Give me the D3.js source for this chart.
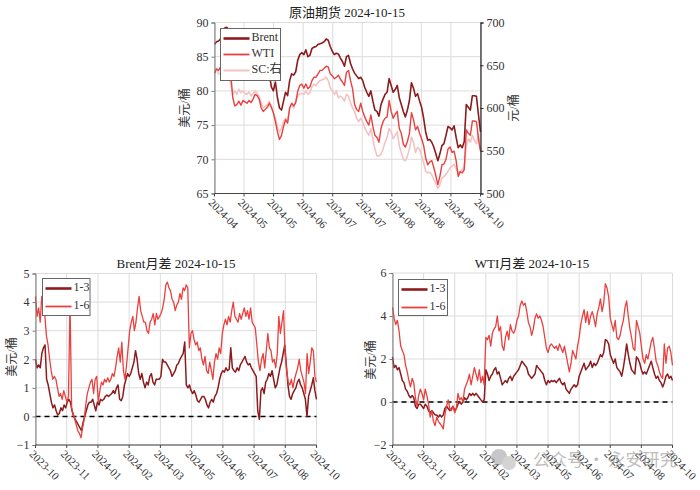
<!DOCTYPE html>
<html><head><meta charset="utf-8">
<script src="https://cdn.jsdelivr.net/npm/d3@7"></script>
<style>body{margin:0;background:#fff;}svg{display:block;}</style>
</head><body>
<script>
// ---------- DATA ----------
const topTitle = "原油期货 2024-10-15";
const topXTicks = ["2024-04","2024-05","2024-05","2024-06","2024-07","2024-07","2024-08","2024-08","2024-09","2024-10"];
const topSeriesNames = ["Brent","WTI","SC:右"];
const brent = [86.8,87.2,87.3,87.6,88.5,89.2,89.3,89.0,87.5,85.5,83.5,83.2,83.5,83.0,82.8,83.3,82.6,82.4,83.5,84.0,83.6,82.2,82.0,
 81.8,82.6,83.6,83.8,82.5,80.6,80.0,81.3,79.0,77.5,77.2,78.5,79.8,79.3,81.5,
 82.5,82.3,82.8,84.5,85.3,85.6,85.3,86.0,85.0,85.2,
 86.2,86.4,86.5,86.8,86.9,87.0,87.2,87.6,87.4,86.5,
 85.8,85.3,85.5,85.4,84.8,84.3,83.6,85.0,85.2,84.0,
 83.2,82.6,82.2,81.8,82.0,81.5,80.5,79.8,79.2,80.0,
 78.5,77.2,77.0,76.3,78.0,78.8,79.5,79.8,81.8,80.8,
 79.8,80.2,80.8,79.0,78.0,77.0,76.2,77.2,78.6,81.2,
 80.4,79.2,79.6,78.5,77.6,76.0,74.0,72.8,72.9,72.5,
 71.8,70.8,69.8,70.8,72.0,72.3,73.5,74.8,74.6,74.3,
 74.9,73.2,71.7,72.1,71.7,72.6,78.0,77.6,77.2,79.3,
 79.3,79.2,76.5,74.0];
const wti = [82.6,83.2,83.0,83.5,84.2,84.8,84.5,84.0,82.5,79.0,77.8,78.0,78.5,77.9,78.6,78.4,78.2,78.6,78.3,78.8,79.5,79.3,78.8,
 77.5,77.0,77.3,77.6,78.2,77.6,76.8,75.5,74.0,72.9,73.5,74.8,75.8,75.3,77.5,
 78.2,77.8,78.3,80.0,80.8,81.0,80.4,81.0,80.3,80.6,
 81.5,82.0,82.0,82.5,83.0,83.0,83.3,83.6,83.5,82.5,
 82.2,81.8,82.0,82.3,81.7,81.3,80.8,82.7,83.0,81.5,
 80.3,78.0,77.3,77.0,78.2,77.0,76.2,75.5,75.0,76.5,
 74.8,73.5,73.2,72.5,74.5,75.5,76.0,76.2,78.6,77.0,
 76.0,76.6,77.0,74.5,73.8,72.2,71.8,72.6,73.8,76.8,
 75.8,74.3,74.8,73.8,73.0,72.0,70.2,69.2,69.6,69.8,
 68.8,67.6,66.3,67.5,69.2,69.3,70.0,71.5,71.8,71.0,
 71.2,69.8,67.5,68.2,68.0,68.5,74.3,73.8,73.5,75.6,
 75.6,75.5,73.0,71.2];
const sc = [644,646,640,640,642,644,641,636,628,616,620,616,622,618,620,617,616,619,614,617,620,617,614,
 606,600,602,604,608,602,594,588,578,572,576,584,588,584,600,
 604,600,608,614,617,617,616,620,616,618,
 625,628,626,630,632,633,634,636,632,624,
 620,616,620,612,614,612,608,616,614,606,
 600,596,588,584,588,584,577,572,568,576,
 564,552,544,544,546,552,560,566,576,572,
 564,568,572,556,548,540,538,544,552,566,
 560,548,554,552,544,536,526,524,525,522,
 516,512,506,510,518,520,522,526,530,532,
 534,529,524,526,528,532,556,564,560,568,
 562,558,570,552];

const spreadXTicks = ["2023-10","2023-11","2024-01","2024-02","2024-03","2024-05","2024-06","2024-07","2024-08","2024-10"];
const spreadNames = ["1-3","1-6"];
const brentTitle = "Brent月差 2024-10-15";
const brent13 = [2.0,1.7,1.8,1.7,2.2,2.4,2.5,1.3,1.1,0.8,0.5,0.3,0.4,0.2,0.05,0.1,0.3,0.2,0.4,0.3,0.5,0.6,0.5,0.2,0.0,-0.1,-0.2,-0.3,-0.4,-0.5,-0.2,0.0,0.2,0.4,0.5,0.5,0.6,0.4,0.2,0.5,0.4,0.6,0.55,0.6,0.7,0.75,0.7,0.75,0.8,0.9,0.8,1.0,1.1,0.6,0.55,0.7,1.1,1.3,1.5,1.4,1.5,1.7,1.9,2.3,2.0,1.5,1.3,1.5,1.2,1.0,1.2,1.1,1.4,1.5,1.2,1.1,1.3,1.3,1.3,1.4,2.0,1.9,1.9,1.8,1.7,1.6,1.4,1.5,1.6,1.8,1.85,2.0,2.1,2.2,2.6,1.1,1.0,1.1,0.9,0.8,0.9,0.75,0.55,0.5,0.6,0.7,0.7,0.6,0.4,0.3,0.5,0.6,0.5,0.7,0.8,1.0,1.3,1.5,1.6,1.55,1.7,1.6,1.65,2.4,1.7,1.6,1.55,1.7,1.6,1.8,1.9,2.0,2.1,1.9,1.8,1.85,1.7,1.6,1.5,1.4,0.2,-0.1,0.9,1.0,0.8,1.2,1.3,1.5,1.4,1.6,1.3,1.0,1.1,1.4,1.7,1.9,2.2,2.5,1.8,1.1,0.7,0.6,0.8,0.9,1.0,1.2,1.3,1.1,1.0,0.8,0.6,0.0,0.7,0.9,1.1,1.35,0.9,0.6];
const brent16 = [4.2,3.5,3.8,3.3,4.2,4.0,3.5,2.8,2.5,2.0,1.6,1.3,1.4,1.3,1.0,0.7,0.8,0.6,0.9,0.7,0.5,0.7,4.0,0.3,0.1,-0.1,-0.3,-0.5,-0.6,-0.75,-0.4,-0.1,0.4,0.8,1.0,1.2,1.3,0.8,1.3,1.4,0.5,0.9,1.2,1.1,1.3,1.2,1.35,1.2,1.3,1.5,1.4,1.7,2.1,2.4,1.9,2.6,1.6,1.3,1.8,2.4,3.0,3.3,3.5,3.0,3.3,3.8,4.2,3.7,3.5,3.3,3.3,3.0,2.9,3.3,3.4,3.6,3.2,3.6,3.4,3.5,3.6,3.8,4.1,4.6,4.7,4.5,4.4,4.1,4.0,3.7,3.9,4.0,4.3,4.1,4.5,4.4,4.6,4.5,2.4,2.9,3.0,2.7,2.5,2.6,2.3,2.4,2.0,1.8,2.1,1.6,1.5,1.9,1.6,1.3,1.9,2.2,2.0,2.4,2.2,2.9,3.2,3.4,3.2,3.5,3.3,3.7,4.0,3.5,3.4,3.3,3.6,3.4,3.6,3.8,3.5,3.7,3.4,3.8,3.3,3.2,3.1,2.5,1.9,1.6,2.0,2.2,1.7,2.3,2.9,2.4,2.3,1.9,2.0,1.7,2.2,3.5,2.9,3.3,3.7,2.2,1.6,1.2,1.1,1.3,1.0,1.3,1.5,1.7,2.0,1.6,1.4,1.2,0.8,2.2,1.5,1.9,2.4,2.3,1.4,1.2];
const wtiTitle = "WTI月差 2024-10-15";
const wti13 = [2.1,1.6,1.7,1.5,1.6,1.3,1.0,0.9,0.6,0.5,0.3,0.2,0.3,0.2,-0.2,-0.3,-0.1,-0.1,-0.2,-0.3,-0.1,-0.2,-0.4,-0.5,-0.4,-0.5,-0.6,-0.6,-0.7,-0.6,-0.7,-0.6,-0.3,-0.2,-0.3,-0.4,-0.3,-0.2,-0.4,-0.3,-0.1,0.0,-0.1,0.0,0.2,0.1,0.2,0.4,0.3,0.4,0.3,0.4,0.3,0.2,0.1,0.0,0.1,1.5,1.3,1.0,1.2,1.3,1.5,1.6,1.3,1.4,1.1,0.8,0.9,1.0,0.9,1.1,1.2,1.0,1.2,1.3,1.4,1.5,1.7,1.9,1.8,1.7,1.6,1.3,1.2,1.1,1.2,1.3,1.7,1.6,1.5,1.4,1.3,1.0,0.8,1.0,0.9,1.0,0.95,1.0,0.9,1.0,1.1,0.9,0.8,0.9,0.6,0.5,0.4,0.6,0.7,0.8,0.7,0.8,1.2,1.4,1.6,1.8,1.5,1.6,1.7,1.9,1.6,1.8,1.7,1.8,2.0,2.2,2.1,2.3,2.9,2.85,2.7,2.2,2.0,1.8,2.0,1.6,1.5,1.4,1.2,1.6,2.1,2.7,2.2,1.8,1.5,1.4,1.3,2.1,2.0,1.8,1.5,1.3,1.4,1.3,1.5,1.7,1.9,1.6,1.3,1.1,1.2,1.0,0.9,0.7,0.9,1.2,1.3,1.1,1.2,1.0];
const wti16 = [4.4,3.9,3.6,3.8,3.3,2.6,2.4,2.2,1.7,1.4,1.0,0.7,1.1,0.9,0.2,-0.2,0.3,0.6,0.4,0.1,0.6,0.3,-0.1,-0.7,-0.4,-0.9,-1.1,-0.7,-0.9,-1.0,-1.1,-1.25,-0.6,-0.2,0.1,-0.3,-0.4,-0.2,-0.5,-0.3,0.4,0.1,0.2,0.0,0.6,0.8,1.0,1.3,0.8,1.2,1.6,1.3,1.0,1.5,0.9,1.2,0.8,3.0,2.9,3.1,2.6,3.2,3.4,3.5,4.0,3.3,3.5,2.6,2.4,3.0,3.3,2.9,3.6,3.3,3.2,3.4,3.8,4.0,4.5,4.7,4.5,4.6,4.2,3.7,3.5,3.1,3.4,3.9,4.1,3.9,4.0,3.8,3.5,3.0,2.5,2.3,2.6,2.7,2.6,2.5,2.6,2.4,2.7,2.5,2.3,2.6,2.2,1.8,1.4,1.8,2.4,2.2,2.0,2.6,3.0,3.6,4.0,4.3,3.7,4.2,3.6,4.0,4.2,3.9,3.5,4.1,4.4,4.8,4.2,4.6,5.5,5.3,4.9,3.9,3.6,3.3,3.8,3.0,2.9,3.1,3.5,3.8,4.4,4.7,4.0,3.4,3.0,2.5,2.4,3.8,3.5,3.2,2.6,2.0,1.8,2.2,2.0,2.4,2.8,3.0,2.5,1.9,1.7,1.4,1.2,1.1,2.7,1.8,2.5,2.6,2.3,1.7];
const watermark = "公众号 · 永安研究";

// ---------- STYLE ----------
const FONT = "'Liberation Serif','Noto Sans CJK SC',serif";
const DARK = "#8c1b1d", RED = "#e8413f", PALE = "#f3c3c3", GRID = "#dcdcdc";

const svg = d3.select("body").append("svg").attr("width",700).attr("height",490)
  .style("font-family",FONT);

function drawPanel(o){
  const g = svg.append("g");
  const y = d3.scaleLinear().domain(o.yDomain).range([o.b,o.t]);
  const xt = d3.scalePoint().domain(d3.range(o.xTicks.length)).range([o.l,o.r]);
  g.selectAll(".hg").data(o.yTicks).join("line")
    .attr("x1",o.l).attr("x2",o.r).attr("y1",d=>y(d)).attr("y2",d=>y(d))
    .attr("stroke",GRID).attr("stroke-width",1);
  g.selectAll(".vg").data(d3.range(o.xTicks.length)).join("line")
    .attr("x1",d=>xt(d)).attr("x2",d=>xt(d)).attr("y1",o.t).attr("y2",o.b)
    .attr("stroke",GRID).attr("stroke-width",1);
  if(o.zero){
    g.append("line").attr("x1",o.l).attr("x2",o.r).attr("y1",y(0)).attr("y2",y(0))
      .attr("stroke","#000").attr("stroke-width",1.5).attr("stroke-dasharray","5,4");
  }
  o.draw.forEach(s=>{
    const ys = s.axis2 ? d3.scaleLinear().domain(o.y2Domain).range([o.b,o.t]) : y;
    const x = d3.scaleLinear().domain([0,s.values.length-1]).range([o.l,o.r]);
    g.append("path").datum(s.values)
      .attr("d",d3.line().x((d,i)=>x(i)).y(d=>ys(d)))
      .attr("fill","none").attr("stroke",s.color).attr("stroke-width",s.width)
      .attr("stroke-linejoin","round");
  });
  const ya = d3.axisLeft(y).tickValues(o.yTicks).tickSize(3).tickPadding(3).tickFormat(d3.format("d"));
  const ga = g.append("g").attr("transform",`translate(${o.l},0)`).call(ya);
  ga.select(".domain").attr("stroke","#777");
  ga.selectAll(".tick line").attr("stroke","#777");
  ga.selectAll("text").attr("font-size",12).attr("fill","#333").attr("font-family",FONT);
  if(o.y2Domain){
    const y2 = d3.scaleLinear().domain(o.y2Domain).range([o.b,o.t]);
    const ra = d3.axisRight(y2).tickValues(o.y2Ticks).tickSize(3).tickPadding(3).tickFormat(d3.format("d"));
    const gr = g.append("g").attr("transform",`translate(${o.r},0)`).call(ra);
    gr.select(".domain").attr("stroke","#222").attr("stroke-width",1.2);
    gr.selectAll(".tick line").attr("stroke","#222");
    gr.selectAll("text").attr("font-size",12).attr("fill","#333").attr("font-family",FONT);
    g.append("text").text(o.y2Label).attr("transform",`translate(${o.r+37},${(o.t+o.b)/2}) rotate(-90)`)
      .attr("text-anchor","middle").attr("font-size",12).attr("fill","#333");
  }
  g.append("line").attr("x1",o.l).attr("x2",o.r).attr("y1",o.b).attr("y2",o.b)
    .attr("stroke","#444").attr("stroke-width",1.2);
  g.selectAll(".xt").data(d3.range(o.xTicks.length)).join("line")
    .attr("x1",d=>xt(d)).attr("x2",d=>xt(d)).attr("y1",o.b).attr("y2",o.b+3).attr("stroke","#444");
  g.selectAll(".xl").data(o.xTicks).join("text")
    .text(d=>d)
    .attr("transform",(d,i)=>`translate(${xt(i)-5},${o.b+8}) rotate(45)`)
    .attr("text-anchor","start").attr("dominant-baseline","middle")
    .attr("font-size",11).attr("fill","#333");
  g.append("text").text(o.yLabel).attr("transform",`translate(${o.yLabelX},${o.yLabelY||(o.t+o.b)/2}) rotate(-90)`)
    .attr("text-anchor","middle").attr("dominant-baseline","middle").attr("font-size",12).attr("fill","#333");
  g.append("text").text(o.title).attr("x",o.titleX).attr("y",o.titleY)
    .attr("text-anchor","middle").attr("font-size",13).attr("fill","#222");
  const L = o.legend;
  g.append("rect").attr("x",L.x).attr("y",L.y).attr("width",L.w).attr("height",L.h)
    .attr("fill","#fff").attr("stroke","#666").attr("stroke-width",1);
  o.legendItems.forEach((s,i)=>{
    const yy = L.y + L.first + i*L.step;
    g.append("line").attr("x1",L.x+3).attr("x2",L.x+3+L.len).attr("y1",yy).attr("y2",yy)
      .attr("stroke",s.color).attr("stroke-width",s.legendWidth);
    g.append("text").text(s.name).attr("x",L.x+5+L.len).attr("y",yy)
      .attr("dominant-baseline","middle").attr("font-size",12).attr("fill","#333");
  });
}

// top panel
const sBrent = {name:topSeriesNames[0],values:brent,color:DARK,width:1.6,legendWidth:2.6};
const sWti = {name:topSeriesNames[1],values:wti,color:RED,width:1.4,legendWidth:1.8};
const sSc = {name:topSeriesNames[2],values:sc,color:PALE,width:1.6,legendWidth:2,axis2:true};
drawPanel({
  l:214.5,r:480.5,t:22.5,b:193.5,
  yDomain:[65,90], yTicks:[65,70,75,80,85,90],
  y2Domain:[500,700], y2Ticks:[500,550,600,650,700], y2Label:"元/桶",
  xTicks:topXTicks, yLabel:"美元/桶", yLabelX:186, title:topTitle, titleX:347, titleY:17,
  draw:[sSc,sWti,sBrent], legendItems:[sBrent,sWti,sSc],
  legend:{x:220.5,y:28.5,w:60,h:52,first:10,step:16,len:26}
});

// Brent spreads
const b13 = {name:spreadNames[0],values:brent13,color:DARK,width:1.5,legendWidth:2.6};
const b16 = {name:spreadNames[1],values:brent16,color:RED,width:1.3,legendWidth:1.8};
drawPanel({
  l:35.5,r:316.5,t:273.5,b:445,
  yDomain:[-1,5], yTicks:[-1,0,1,2,3,4,5], zero:true,
  xTicks:spreadXTicks, yLabel:"美元/桶", yLabelX:13, yLabelY:357, title:brentTitle, titleX:176, titleY:268,
  draw:[b13,b16], legendItems:[b13,b16],
  legend:{x:42.5,y:278.5,w:47.5,h:37,first:10,step:18,len:26}
});

// WTI spreads
const w13 = {name:spreadNames[0],values:wti13,color:DARK,width:1.5,legendWidth:2.6};
const w16 = {name:spreadNames[1],values:wti16,color:RED,width:1.3,legendWidth:1.8};
drawPanel({
  l:392.5,r:672.5,t:273,b:445,
  yDomain:[-2,6], yTicks:[-2,0,2,4,6], zero:true,
  xTicks:spreadXTicks, yLabel:"美元/桶", yLabelX:372, yLabelY:360, title:wtiTitle, titleX:532, titleY:268,
  draw:[w13,w16], legendItems:[w13,w16],
  legend:{x:398.5,y:279.5,w:49,h:36,first:10,step:18,len:26}
});

// watermark
const wm = svg.append("g").attr("opacity",0.55);
wm.append("circle").attr("cx",499).attr("cy",457).attr("r",8).attr("fill","#9a9a9a");
wm.append("circle").attr("cx",509).attr("cy",463).attr("r",7).attr("fill","#b0b0b0");
wm.append("text").text(watermark).attr("x",533).attr("y",466).attr("font-size",17)
  .attr("font-family","'Noto Sans CJK SC',sans-serif").attr("fill","#888");
</script>
</body></html>
